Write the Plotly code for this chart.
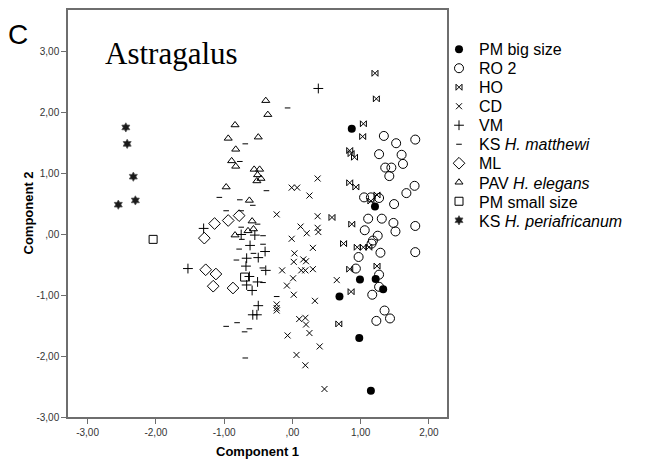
import plotly.graph_objects as go

# ---- data (Component 1, Component 2) ----
pm_big_x = [0.87, 1.21, 0.99, 1.22, 1.33, 0.69, 0.98, 1.15]
pm_big_y = [1.74, 0.46, -0.74, -0.73, -0.90, -1.02, -1.70, -2.57]

ro2_x = [1.34, 1.52, 1.80, 1.27, 1.60, 1.62, 1.36, 1.45, 1.42, 1.79, 1.67, 1.05, 1.15, 1.27, 1.49, 1.11, 1.31,
         1.48, 1.80, 1.06, 1.51, 1.25, 1.18, 1.16, 1.29, 1.80, 0.97, 0.93, 1.27, 1.27, 1.17, 1.35, 1.23, 1.43]
ro2_y = [1.62, 1.50, 1.56, 1.32, 1.31, 1.16, 1.10, 1.10, 0.96, 0.80, 0.68, 0.61, 0.61, 0.60, 0.50, 0.26, 0.26,
         0.19, 0.14, 0.07, 0.05, -0.02, -0.10, -0.15, -0.30, -0.29, -0.37, -0.56, -0.66, -0.86, -0.99, -1.25, -1.42, -1.38]

ho_x = [1.21, 1.23, 1.04, 1.03, 0.84, 0.86, 0.91, 0.84, 0.93, 1.24, 1.15, 0.58, 0.87, 0.75, 0.95, 1.04, 1.12,
        0.84, 1.24, 0.86, 0.68]
ho_y = [2.65, 2.23, 1.82, 1.61, 1.38, 1.33, 1.27, 0.85, 0.78, 0.65, 0.55, 0.28, 0.17, -0.15, -0.21, -0.21, -0.21,
        -0.57, -0.52, -0.94, -1.47]

cd_x = [0.37, -0.01, 0.07, 0.25, -0.23, 0.37, 0.12, 0.21, 0.37, 0.38, -0.01, 0.30, 0.03, 0.02, 0.16, 0.20, -0.15,
        0.13, 0.19, 0.30, 0.65, 0.01, -0.08, 0.02, -0.23, -0.23, -0.23, 0.33, 0.10, 0.19, 0.20, -0.07, 0.25, 0.40,
        0.06, 0.19, 0.47]
cd_y = [0.92, 0.77, 0.77, 0.64, 0.33, 0.30, 0.13, 0.02, 0.11, 0.04, -0.07, -0.22, -0.31, -0.45, -0.41, -0.44, -0.59,
        -0.59, -0.59, -0.57, -0.75, -0.72, -0.84, -0.99, -1.15, -1.21, -1.25, -1.09, -1.39, -1.37, -1.48, -1.66, -1.62,
        -1.84, -1.98, -2.15, -2.54]

vm_x = [0.38, -1.30, -0.75, -0.55, -0.62, -0.40, -0.50, -0.67, -0.68, -0.39, -0.63, -0.51, -0.67, -0.59, -0.50,
        -0.58, -0.52, -1.53]
vm_y = [2.40, 0.10, 0.00, -0.01, -0.18, -0.28, -0.38, -0.39, -0.52, -0.59, -0.69, -0.78, -0.83, -0.92, -1.17,
        -1.32, -1.32, -0.56]

ksm_x = [-0.07, -0.69, -0.77, -0.38, -1.07, -0.77, -0.58, -0.97, -0.75, -0.75, -0.51, -0.43, -0.74, -0.78, -0.43,
         -0.82, -0.57, -0.44, -0.43, -0.23, -0.97, -0.81, -0.70, -0.63, -0.69]
ksm_y = [2.08, 1.49, 1.20, 0.72, 0.61, 0.57, 0.48, 0.39, 0.39, 0.12, 0.17, -0.02, -0.08, -0.24, -0.16, -0.42,
         -0.31, -0.55, -0.79, -1.02, -1.51, -1.45, -1.60, -1.55, -2.03]

ml_x = [-1.14, -0.94, -0.78, -1.29, -1.27, -1.12, -1.16, -0.87]
ml_y = [0.18, 0.23, 0.31, -0.06, -0.58, -0.65, -0.85, -0.88]

pav_x = [-0.39, -0.36, -0.84, -0.94, -0.50, -0.83, -0.89, -0.83, -0.56, -0.48, -0.51, -0.46, -0.52, -0.97, -0.63,
         -0.59, -0.65, -0.57, -0.84]
pav_y = [2.20, 1.97, 1.80, 1.58, 1.60, 1.40, 1.21, 1.12, 1.07, 1.07, 0.98, 0.92, 0.88, 0.78, 0.56, 0.22, 0.06,
         0.09, -0.01]

pm_small_x = [-2.04, -0.70]
pm_small_y = [-0.08, -0.70]

ksp_x = [-2.44, -2.42, -2.33, -2.30, -2.55]
ksp_y = [1.76, 1.49, 0.95, 0.56, 0.49]

tick_vals = [-3, -2, -1, 0, 1, 2, 3]
tick_text = ["-3,00", "-2,00", "-1,00", ",00", "1,00", "2,00", "3,00"]

series = [
    ("PM big size", pm_big_x, pm_big_y, dict(symbol="circle", size=8, color="black")),
    ("RO 2", ro2_x, ro2_y, dict(symbol="circle-open", size=9, color="black", line=dict(width=1))),
    ("HO", ho_x, ho_y, dict(symbol="bowtie-open", size=6, color="black", line=dict(width=1))),
    ("CD", cd_x, cd_y, dict(symbol="x-thin-open", size=6, color="black", line=dict(width=1))),
    ("VM", vm_x, vm_y, dict(symbol="cross-thin-open", size=7, color="black", line=dict(width=1))),
    ("KS <i>H. matthewi</i>", ksm_x, ksm_y, dict(symbol="line-ew-open", size=4, color="black", line=dict(width=1))),
    ("ML", ml_x, ml_y, dict(symbol="diamond-open", size=9, color="black", line=dict(width=1))),
    ("PAV <i>H. elegans</i>", pav_x, pav_y, dict(symbol="triangle-up-open", size=7, color="black", line=dict(width=1))),
    ("PM small size", pm_small_x, pm_small_y, dict(symbol="square-open", size=8, color="black", line=dict(width=1))),
    ("KS <i>H. periafricanum</i>", ksp_x, ksp_y, dict(symbol="hexagram", size=7, color="#1a1a1a",
                                                      line=dict(width=0.8, color="#555"))),
]

# plot area geometry (pixels)
W, H = 645, 461
ML_, MR_, MT_, MB_ = 68, 198, 8, 44
pw = W - ML_ - MR_
ph = H - MT_ - MB_

legend_top_px = 47.5
legend_step_px = 19.1
symbol_px = 459

fig = go.Figure()
layout_legends = {}
for i, (name, xs, ys, mk) in enumerate(series):
    key = "legend" if i == 0 else f"legend{i + 1}"
    fig.add_trace(go.Scatter(x=xs, y=ys, mode="markers", name=name, marker=mk,
                             legend=key, showlegend=True, cliponaxis=False))
    layout_legends[key] = dict(
        x=(symbol_px - 20 - ML_) / pw,
        y=(H - MB_ - (legend_top_px + i * legend_step_px)) / ph,
        xanchor="left", yanchor="middle",
        bgcolor="rgba(0,0,0,0)", borderwidth=0,
        font=dict(family="Liberation Sans, Arial, sans-serif", size=16, color="black"),
        itemwidth=30,
    )

axis_common = dict(
    showgrid=False, zeroline=False, showline=True, mirror=True,
    linecolor="#6e6e6e", linewidth=1.5,
    ticks="outside", ticklen=5, tickcolor="#6e6e6e", tickwidth=1.2,
    tickvals=tick_vals, ticktext=tick_text,
    tickfont=dict(family="Liberation Sans, Arial, sans-serif", size=10, color="#333"),
)

fig.update_layout(
    width=W, height=H,
    margin=dict(l=ML_, r=MR_, t=MT_, b=MB_, pad=0),
    paper_bgcolor="white", plot_bgcolor="white",
    xaxis=dict(range=[-3.287, 2.265], **axis_common),
    yaxis=dict(range=[-3.0, 3.69], **axis_common),
    **layout_legends,
    annotations=[
        dict(text="Astragalus", xref="paper", yref="paper",
             x=(102.7 - ML_) / pw, y=(H - MB_ - 52) / ph, xanchor="left", yanchor="middle",
             showarrow=False, font=dict(family="Liberation Serif, Times New Roman, serif", size=31, color="black")),
        dict(text="C", xref="paper", yref="paper",
             x=(18 - ML_) / pw, y=(H - MB_ - 33) / ph, xanchor="center", yanchor="middle",
             showarrow=False, font=dict(family="Liberation Sans, Arial, sans-serif", size=28, color="black")),
        dict(text="<b>Component 1</b>", xref="paper", yref="paper",
             x=0.5, y=(H - MB_ - 452) / ph, xanchor="center", yanchor="middle",
             showarrow=False, font=dict(family="Liberation Sans, Arial, sans-serif", size=13, color="black")),
        dict(text="<b>Component 2</b>", xref="paper", yref="paper", textangle=-90,
             x=(28 - ML_) / pw, y=0.5, xanchor="center", yanchor="middle",
             showarrow=False, font=dict(family="Liberation Sans, Arial, sans-serif", size=13, color="black")),
    ],
)

fig.write_html("out.html")
